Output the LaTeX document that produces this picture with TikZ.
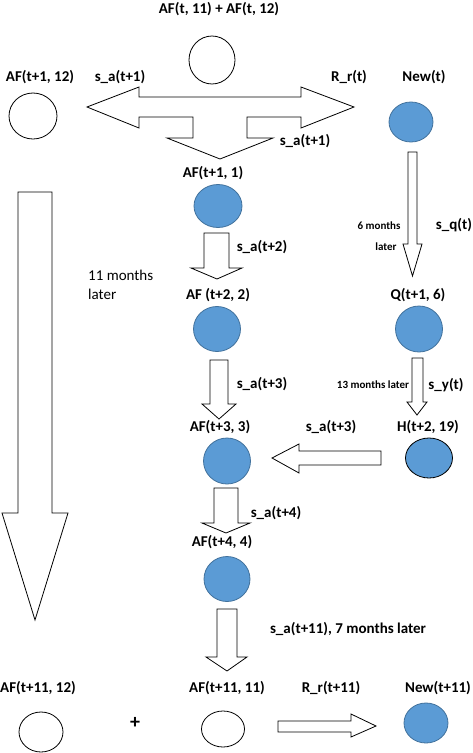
\documentclass[tikz,border=0pt]{standalone}
\usepackage{fontspec}
\setmainfont{Carlito}
\usetikzlibrary{shapes.geometric}
\definecolor{bfill}{HTML}{5B9BD5}
\definecolor{bdark}{HTML}{41719C}
\begin{document}
\begin{tikzpicture}[x=1pt,y=-1pt,
 lbl/.style={font=\bfseries\fontsize{15}{18}\selectfont, inner sep=0},
 small/.style={font=\bfseries\fontsize{11}{13}\selectfont, inner sep=0},
 plain/.style={font=\fontsize{15}{19}\selectfont, inner sep=0, align=left},
 wcirc/.style={ellipse, draw=black, fill=white, line width=0.8pt, inner sep=0},
 bcirc/.style={ellipse, draw=bdark, fill=bfill, line width=0.8pt, inner sep=0},
 barrow/.style={draw=black, fill=white, line width=0.8pt, line join=miter}]
\useasboundingbox (0,0) rectangle (473,753);

% circles
\node[wcirc, minimum width=46pt, minimum height=48pt] (top) at (212,60) {};
\node[wcirc, minimum width=48pt, minimum height=46pt] (af112) at (33,116) {};
\node[bcirc, minimum width=44pt, minimum height=40pt] (newt) at (411,122) {};
\node[bcirc, minimum width=48pt, minimum height=43pt] (af1) at (218,206) {};
\node[bcirc, minimum width=47pt, minimum height=45pt] (af2) at (217,329) {};
\node[bcirc, minimum width=47pt, minimum height=46pt] (q) at (419,329) {};
\node[bcirc, minimum width=47pt, minimum height=46pt] (af3) at (227,461) {};
\node[bcirc, draw=black, minimum width=47pt, minimum height=40pt] (h) at (429,458) {};
\node[bcirc, minimum width=46pt, minimum height=45pt] (af4) at (227,579) {};
\node[wcirc, minimum width=44pt, minimum height=40pt] (af1112) at (41,732) {};
\node[wcirc, minimum width=43pt, minimum height=36pt] (af1111) at (223,729) {};
\node[bcirc, minimum width=44pt, minimum height=40pt] (new11) at (426,723) {};

% block arrows
\draw[barrow] (87,107) -- (139,87) -- (139,97) -- (301,97) -- (301,87) -- (354,107)
  -- (301,128) -- (301,117) -- (247,117) -- (247,138) -- (273,138) -- (220,159)
  -- (167,138) -- (193,138) -- (193,117) -- (139,117) -- (139,128) -- cycle;
\draw[barrow] (18,192) -- (52,192) -- (52,513) -- (68,513) -- (35,620) -- (2,513) -- (18,513) -- cycle;
\draw[barrow] (408,152) -- (417,152) -- (417,244) -- (422,244) -- (412.5,276) -- (403,244) -- (408,244) -- cycle;
\draw[barrow] (204,233) -- (229,233) -- (229,268) -- (242,268) -- (217,279) -- (191,268) -- (204,268) -- cycle;
\draw[barrow] (210,360) -- (228,360) -- (228,404) -- (236,404) -- (219,419) -- (202,404) -- (210,404) -- cycle;
\draw[barrow] (412,358) -- (423,358) -- (423,402) -- (427,402) -- (417,415) -- (407,402) -- (412,402) -- cycle;
\draw[barrow] (381,451) -- (381,465) -- (299,465) -- (299,473) -- (272,458) -- (299,444) -- (299,451) -- cycle;
\draw[barrow] (214,488) -- (238,488) -- (238,523) -- (250,523) -- (226,533) -- (202,523) -- (214,523) -- cycle;
\draw[barrow] (217,609) -- (237,609) -- (237,657) -- (247,657) -- (227,671) -- (206,657) -- (217,657) -- cycle;
\draw[barrow] (278,721) -- (351,721) -- (351,714) -- (376,726) -- (351,737) -- (351,732) -- (278,732) -- cycle;

% labels
\node[lbl] (ltop) at (219,9) {AF(t, 11) + AF(t, 12)};
\node[lbl] (l1) at (40,77) {AF(t+1, 12)};
\node[lbl] (l2) at (120,77) {s\_a(t+1)};
\node[lbl] (l3) at (349,77) {R\_r(t)};
\node[lbl] (l4) at (424,77) {New(t)};
\node[lbl] (l5) at (305,141) {s\_a(t+1)};
\node[lbl] (l6) at (213,173) {AF(t+1, 1)};
\node[lbl] (l7) at (262,247) {s\_a(t+2)};
\node[plain, anchor=west] (l8) at (88,284.5) {11 months\\later};
\node[lbl] (l9) at (218,295) {AF (t+2, 2)};
\node[small] (l10) at (379,226) {6 months};
\node[small] (l11) at (386,247) {later};
\node[lbl] (l12) at (454,225) {s\_q(t)};
\node[lbl] (l13) at (418,295) {Q(t+1, 6)};
\node[lbl] (l14) at (262,384) {s\_a(t+3)};
\node[small] (l15) at (373,385) {13 months later};
\node[lbl] (l16) at (446,385) {s\_y(t)};
\node[lbl] (l17) at (220,427) {AF(t+3, 3)};
\node[lbl] (l18) at (331,427) {s\_a(t+3)};
\node[lbl] (l19) at (428,427) {H(t+2, 19)};
\node[lbl] (l20) at (276,513) {s\_a(t+4)};
\node[lbl] (l21) at (222,542) {AF(t+4, 4)};
\node[lbl] (l22) at (348,629) {s\_a(t+11), 7 months later};
\node[lbl] (l23) at (38,688) {AF(t+11, 12)};
\node[lbl] (l24) at (227,688) {AF(t+11, 11)};
\node[lbl] (l25) at (331,688) {R\_r(t+11)};
\node[lbl] (l26) at (438,688) {New(t+11)};
\node[font=\bfseries\fontsize{20}{22}\selectfont, inner sep=0] (plus) at (135,723) {+};
\end{tikzpicture}
\end{document}
